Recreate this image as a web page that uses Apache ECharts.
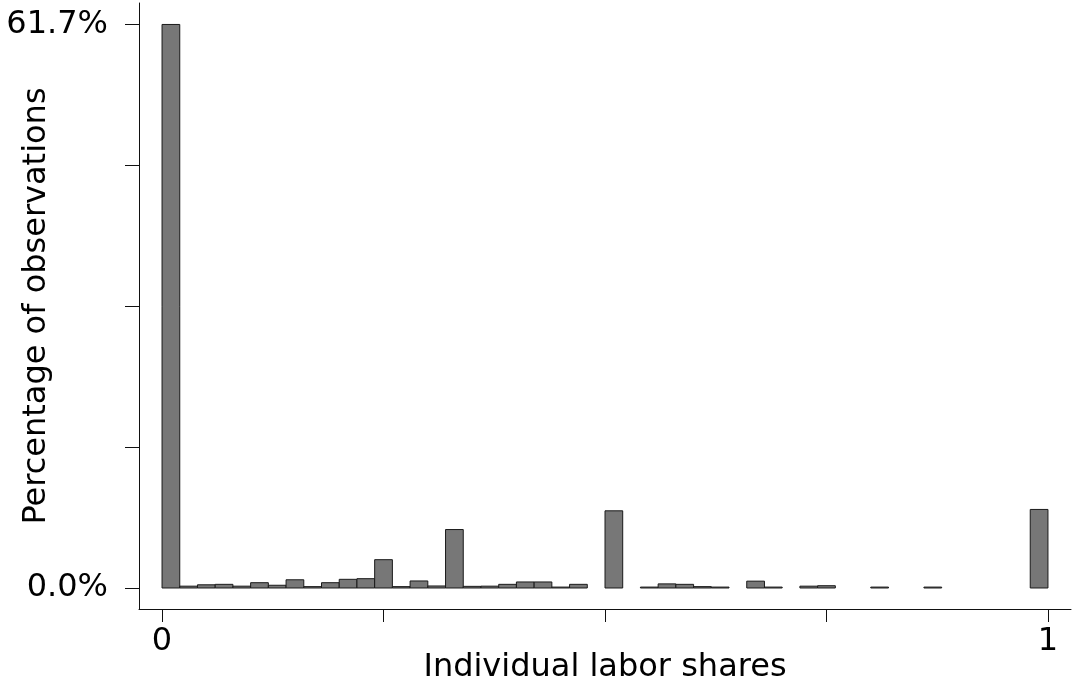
<!DOCTYPE html>
<html>
<head>
<meta charset="utf-8">
<script src="https://cdn.jsdelivr.net/npm/echarts@6/dist/echarts.min.js"></script>
<style>
html,body{margin:0;padding:0;background:#fff;}
#c{width:1074px;height:681px;}
</style>
</head>
<body>
<div id="c"></div>
<script>
// Histogram bins (lower edges), width 0.02
var binLower = [0.00,0.02,0.04,0.06,0.08,0.10,0.12,0.14,0.16,0.18,
                0.20,0.22,0.24,0.26,0.28,0.30,0.32,0.34,0.36,0.38,
                0.40,0.42,0.44,0.46,0.48,0.50,0.52,0.54,0.56,0.58,
                0.60,0.62,0.64,0.66,0.68,0.70,0.72,0.74,0.76,0.78,
                0.80,0.82,0.84,0.86,0.88,0.90,0.92,0.94,0.96,0.98];
var binWidth = 0.02;
// Percentage of observations in each bin
var percent = [61.7,0.2,0.35,0.4,0.2,0.58,0.3,0.9,0.15,0.58,
               0.95,1.02,3.1,0.15,0.77,0.22,6.4,0.18,0.2,0.4,
               0.66,0.66,0.1,0.4,0,8.45,0,0.1,0.45,0.4,
               0.15,0.1,0,0.75,0.1,0,0.2,0.25,0,0,
               0.1,0,0,0.1,0,0,0,0,0,8.6];
var yTicks = [0, 15.425, 30.85, 46.275, 61.7];
var yTickLabels = [0, 61.7];
var xTicks = [0, 0.25, 0.5, 0.75, 1];
var xTickLabels = [0, 1];

var data = binLower.map(function(lo, i){ return [lo, lo + binWidth, percent[i]]; });

var chart = echarts.init(document.getElementById('c'), null, {renderer:'canvas'});
var axisColor = '#111';
var font = 'DejaVu Sans';
chart.setOption({
  animation: false,
  backgroundColor: '#fff',
  grid: {left: 139, right: 3, top: 3, bottom: 72, containLabel: false, outerBoundsMode: 'none'},
  xAxis: {
    type: 'value', min: -0.026, max: 1.026,
    name: 'Individual labor shares', nameLocation: 'middle', nameGap: 43, nameMoveOverlap: false,
    nameTextStyle: {fontFamily: font, fontSize: 32, color: '#000'},
    axisLine: {show: true, onZero: false, lineStyle: {color: axisColor, width: 1}},
    axisTick: {show: true, length: 13, lineStyle: {color: axisColor}, customValues: xTicks},
    axisLabel: {show: true, customValues: xTickLabels, margin: 17, fontFamily: font, fontSize: 32, color: '#000',
      formatter: function(v){ return String(v); }},
    splitLine: {show: false}
  },
  yAxis: {
    type: 'value', min: -2.3, max: 64.05,
    name: 'Percentage of observations', nameLocation: 'middle', nameGap: 86, nameMoveOverlap: false,
    nameTextStyle: {fontFamily: font, fontSize: 32, color: '#000'},
    axisLine: {show: true, onZero: false, lineStyle: {color: axisColor, width: 1}},
    axisTick: {show: true, length: 14, lineStyle: {color: axisColor}, customValues: yTicks},
    axisLabel: {show: true, customValues: yTickLabels, margin: 31, fontFamily: font, fontSize: 32, color: '#000',
      formatter: function(v){ return v.toFixed(1) + '%'; }},
    splitLine: {show: false}
  },
  series: [{
    type: 'custom',
    data: data,
    encode: {x: [0, 1], y: 2},
    renderItem: function(params, api){
      var v = api.value(2);
      if (!(v > 0)) return null;
      var p1 = api.coord([api.value(0), v]);
      var p2 = api.coord([api.value(1), 0]);
      return {
        type: 'rect',
        shape: {x: p1[0], y: p1[1], width: p2[0] - p1[0], height: p2[1] - p1[1]},
        style: {fill: '#777777', stroke: '#1a1a1a', lineWidth: 1}
      };
    }
  }]
});
</script>
</body>
</html>
